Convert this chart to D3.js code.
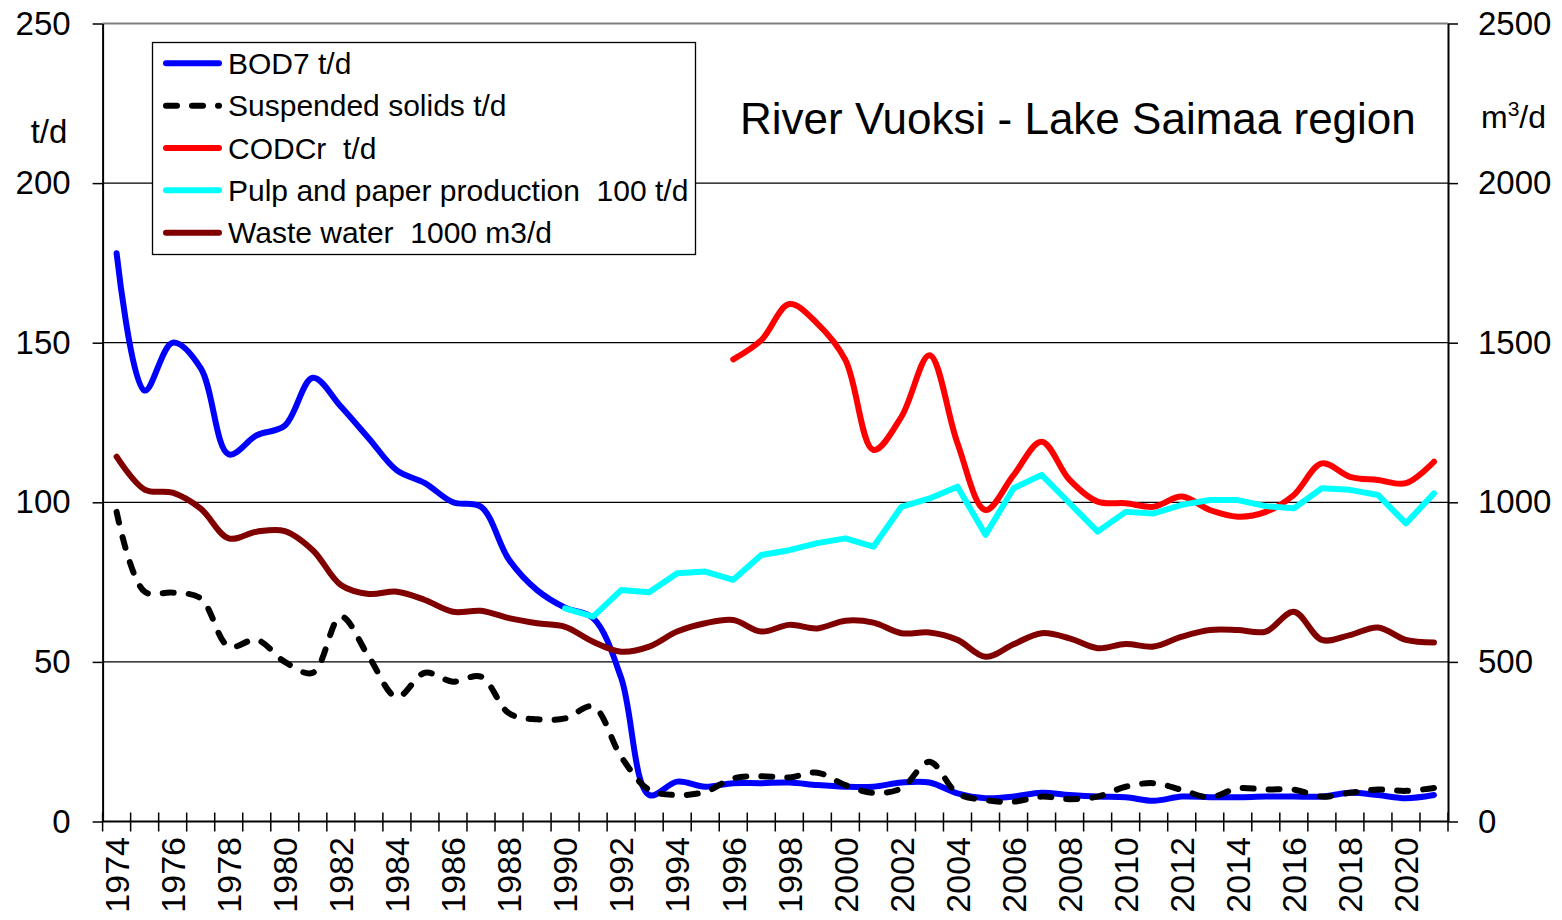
<!DOCTYPE html>
<html>
<head>
<meta charset="utf-8">
<script src="https://cdn.jsdelivr.net/npm/d3@7"></script>
<style>
  html, body { margin: 0; padding: 0; background: #fff; }
  svg { display: block; font-family: "Liberation Sans", Arial, sans-serif; }
</style>
</head>
<body>
<svg id="chart" width="1562" height="920"></svg>
<script>
// ---------------- data ----------------
const years = d3.range(1974, 2022);
const bod7 = [178, 135, 150, 142, 115, 121, 124, 139, 130, 120,
  110, 106, 100, 98.6, 82, 72.5, 67, 63.7, 45, 8.3,
  12.5, 10.9, 12, 12, 12.2, 11.4, 10.9, 10.9, 12.2, 12.2,
  8.8, 7.3, 7.8, 9, 8.3, 7.8, 7.6, 6.5, 7.8, 7.6,
  7.6, 7.8, 7.8, 7.8, 9, 8.3, 7.3, 8.3];
const suspendedSolids = [97, 72, 71.7, 69.9, 54.8, 56.9, 50, 46.6, 64.2, 51.6,
  39, 46.6, 43.8, 45.4, 33.9, 32, 32.3, 36, 20.3, 9.9,
  8.3, 9.3, 13.5, 14.2, 13.8, 15.3, 11.4, 9, 10.4, 18.7,
  8.8, 6.7, 6.2, 7.8, 7, 7.8, 10.9, 12, 9.9, 7.6,
  10.4, 10, 10, 7.8, 9, 10, 9.6, 10.5];
const codYears = d3.range(1996, 2022);
const codCr = [144.8, 150.8, 162.1, 156, 144.6, 116.4, 126.8, 146.1, 118.5, 97.6,
  108.5, 119, 107, 100.2, 99.7, 98.6, 101.8, 97.6, 95.5, 97,
  102.3, 112.2, 108, 107, 106, 112.7];
const pulpYears = d3.range(1990, 2022);
const pulpPaper = [66.8, 64.2, 72.5, 71.8, 77.8, 78.3, 75.7, 83.5, 85, 87.2,
  88.7, 86.1, 98.6, 101.2, 104.9, 89.8, 104.4, 108.6, 99.7, 90.8,
  97, 96.5, 99.2, 100.7, 100.7, 98.8, 98.1, 104.4, 103.9, 102.3,
  93.4, 102.8];
const wasteWater = [114.3, 104, 103, 98, 88.7, 90.8, 91, 85, 74.1, 71.3,
  72, 69.4, 65.7, 66, 63.7, 62.1, 61, 56.3, 53.2, 54.8,
  59.5, 62.1, 63.1, 59.5, 61.6, 60.5, 62.9, 62.3, 59, 59.2,
  56.9, 51.6, 55.5, 59, 57.4, 54.3, 55.6, 54.8, 57.9, 60,
  60, 59.5, 65.7, 56.9, 58.4, 60.8, 56.9, 56.1];
const leftTicks = [0, 50, 100, 150, 200, 250];
const rightTicks = [0, 500, 1000, 1500, 2000, 2500];
const legendLabels = ["BOD7 t/d", "Suspended solids t/d", "CODCr  t/d", "Pulp and paper production  100 t/d", "Waste water  1000 m3/d"];
const titleText = "River Vuoksi - Lake Saimaa region";

// ---------------- layout ----------------
const L = 102.6, R = 1448, T = 23.5, B = 821.5;
const svg = d3.select("#chart");
svg.append("rect").attr("width", 1562).attr("height", 920).attr("fill", "#fff");

const x = d3.scaleBand().domain(years).range([L, R]).padding(0);
const cx = yr => x(yr) + x.bandwidth() / 2;
const yL = d3.scaleLinear().domain([0, 250]).range([B, T]);
const yR = d3.scaleLinear().domain([0, 2500]).range([B, T]);

// gridlines
svg.append("g").selectAll("line").data(leftTicks.filter(v => v > 0)).join("line")
  .attr("x1", L).attr("x2", R)
  .attr("y1", d => yL(d)).attr("y2", d => yL(d))
  .attr("stroke", d => d === 250 ? "#7f7f7f" : "#000")
  .attr("stroke-width", d => d === 250 ? 2 : 1.3);

// series (Excel order: later series on top)
const smooth = d3.curveCatmullRom.alpha(0.5);
function drawSeries(yrs, vals, color, curve, dash) {
  const pts = yrs.map((yr, i) => [cx(yr), yL(vals[i])]);
  const line = d3.line().curve(curve);
  const p = svg.append("path").attr("d", line(pts))
    .attr("fill", "none").attr("stroke", color).attr("stroke-width", 6)
    .attr("stroke-linejoin", "round").attr("stroke-linecap", "round");
  if (dash) p.attr("stroke-dasharray", dash);
}
drawSeries(years, bod7, "#0000FF", smooth);
drawSeries(years, suspendedSolids, "#000", smooth, "11,15");
drawSeries(codYears, codCr, "#FF0000", smooth);
drawSeries(pulpYears, pulpPaper, "#00FFFF", d3.curveLinear);
drawSeries(years, wasteWater, "#800000", smooth);

const fontFam = "Liberation Sans, Arial, sans-serif";
// left axis
const axL = svg.append("g").attr("transform", `translate(${L},0)`)
  .call(d3.axisLeft(yL).tickValues(leftTicks).tickFormat(d3.format("d")).tickSize(10).tickSizeOuter(0).tickPadding(22));
axL.select(".domain").attr("stroke", "#000").attr("stroke-width", 2);
axL.selectAll(".tick line").attr("stroke", "#000").attr("stroke-width", 1.5);
axL.selectAll("text").attr("font-size", 33).attr("fill", "#000").attr("font-family", fontFam);

// right axis
const axR = svg.append("g").attr("transform", `translate(${R},0)`)
  .call(d3.axisRight(yR).tickValues(rightTicks).tickFormat(d3.format("d")).tickSize(10).tickSizeOuter(0).tickPadding(20));
axR.select(".domain").attr("stroke", "#000").attr("stroke-width", 2);
axR.selectAll(".tick line").attr("stroke", "#000").attr("stroke-width", 1.5);
axR.selectAll("text").attr("font-size", 33).attr("fill", "#000").attr("font-family", fontFam);

// bottom axis: line, boundary ticks, labels
svg.append("line").attr("x1", L).attr("x2", R).attr("y1", B).attr("y2", B)
  .attr("stroke", "#000").attr("stroke-width", 2);
const bounds = years.map(yr => x(yr)).concat([R]);
svg.append("g").selectAll("line").data(bounds).join("line")
  .attr("x1", d => d).attr("x2", d => d).attr("y1", B - 9).attr("y2", B + 10)
  .attr("stroke", "#000").attr("stroke-width", 1.5);
svg.append("g").selectAll("text").data(years.filter(yr => yr % 2 === 0)).join("text")
  .attr("transform", d => `translate(${cx(d)},837) rotate(-90)`)
  .attr("text-anchor", "end").attr("dy", "0.36em")
  .attr("font-size", 34).attr("fill", "#000")
  .text(d => d);

// axis unit labels
svg.append("text").attr("x", 49).attr("y", 143).attr("text-anchor", "middle")
  .attr("font-size", 33).text("t/d");
const mt = svg.append("text").attr("x", 1481).attr("y", 128).attr("font-size", 32);
mt.append("tspan").text("m");
mt.append("tspan").attr("font-size", 21).attr("dy", -12).text("3");
mt.append("tspan").attr("dy", 12).text("/d");

// title
svg.append("text").attr("x", 740).attr("y", 133.5).attr("font-size", 44)
  .attr("fill", "#000").text(titleText);

// legend
const lg = svg.append("g");
lg.append("rect").attr("x", 152.5).attr("y", 42.5).attr("width", 543).attr("height", 212)
  .attr("fill", "#fff").attr("stroke", "#000").attr("stroke-width", 1.3);
const legendColors = ["#0000FF", "#000", "#FF0000", "#00FFFF", "#800000"];
legendLabels.forEach((lab, i) => {
  const yy = 63.3 + 42.35 * i;
  const ln = lg.append("line").attr("x1", 166).attr("x2", 219).attr("y1", yy).attr("y2", yy)
    .attr("stroke", legendColors[i]).attr("stroke-width", 6).attr("stroke-linecap", "round");
  if (i === 1) ln.attr("stroke-dasharray", "11,15");
  lg.append("text").attr("x", 228).attr("y", yy + 10.5).attr("font-size", 30)
    .attr("fill", "#000").style("white-space", "pre").text(lab);
});
</script>
</body>
</html>
